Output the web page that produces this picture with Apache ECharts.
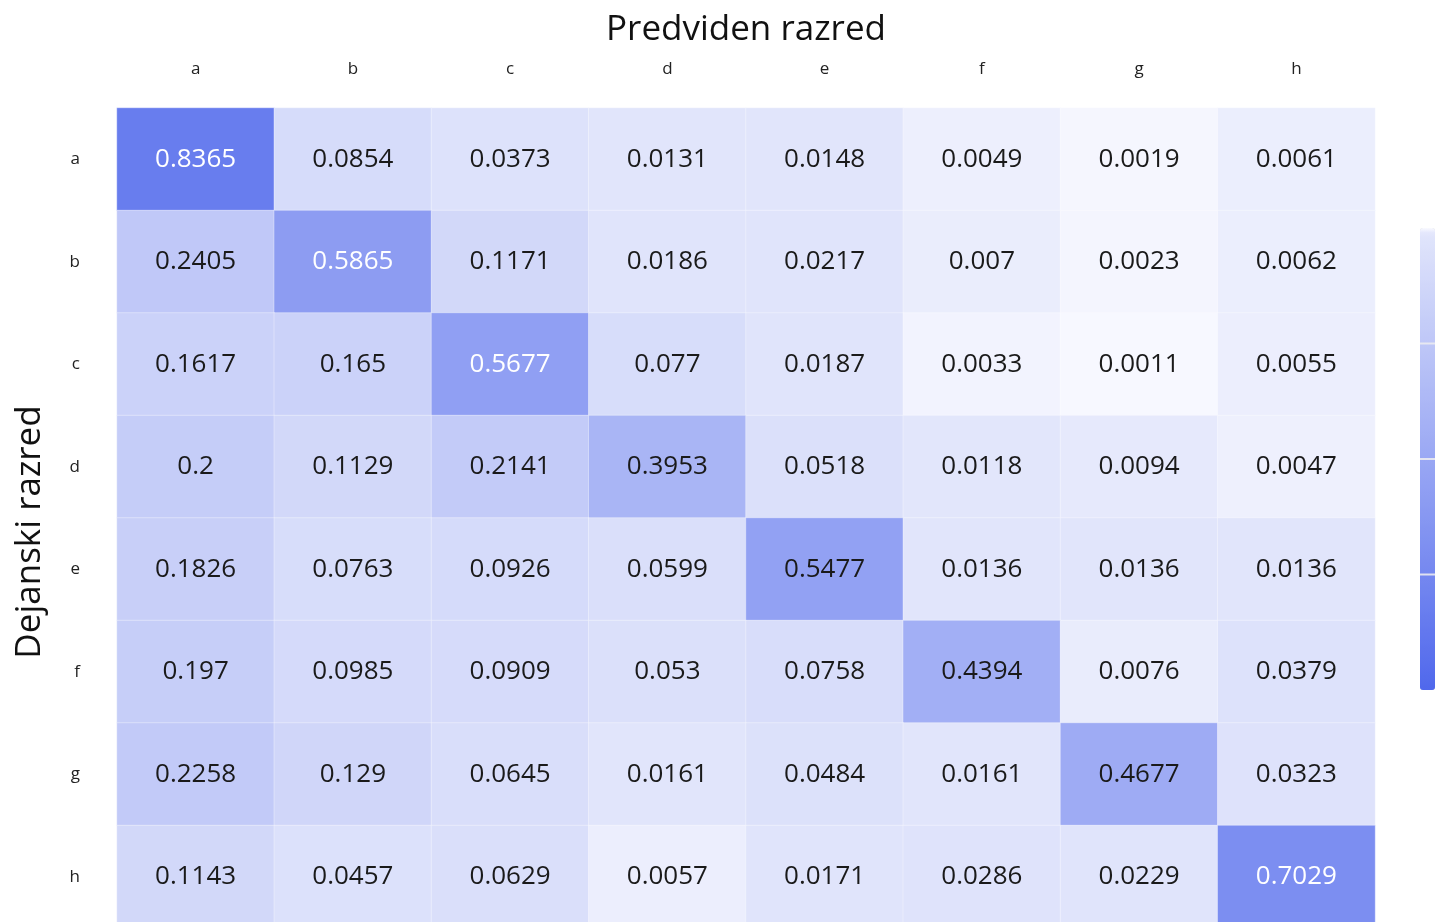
<!DOCTYPE html>
<html>
<head>
<meta charset="utf-8">
<script src="https://cdn.jsdelivr.net/npm/echarts@6/dist/echarts.min.js"></script>
<style>
html,body{margin:0;padding:0;background:#fff;}
#chart{width:1435px;height:922px;}
</style>
</head>
<body>
<div id="chart"></div>
<script>
// Categories
const predictedClasses = ['a','b','c','d','e','f','g','h'];
const actualClasses = ['a','b','c','d','e','f','g','h'];
const xTitle = 'Predviden razred';
const yTitle = 'Dejanski razred';

// Confusion-matrix rows (actual class), columns = predicted class
const row_a = [0.8365,0.0854,0.0373,0.0131,0.0148,0.0049,0.0019,0.0061];
const row_b = [0.2405,0.5865,0.1171,0.0186,0.0217,0.007,0.0023,0.0062];
const row_c = [0.1617,0.165,0.5677,0.077,0.0187,0.0033,0.0011,0.0055];
const row_d = [0.2,0.1129,0.2141,0.3953,0.0518,0.0118,0.0094,0.0047];
const row_e = [0.1826,0.0763,0.0926,0.0599,0.5477,0.0136,0.0136,0.0136];
const row_f = [0.197,0.0985,0.0909,0.053,0.0758,0.4394,0.0076,0.0379];
const row_g = [0.2258,0.129,0.0645,0.0161,0.0484,0.0161,0.4677,0.0323];
const row_h = [0.1143,0.0457,0.0629,0.0057,0.0171,0.0286,0.0229,0.7029];
const rows = [row_a,row_b,row_c,row_d,row_e,row_f,row_g,row_h];

// Colour scale anchors [value, r, g, b]
const colorAnchors = [
  [0, 250,250,255],
  [0.005, 237,239,253],
  [0.0125, 225,229,251],
  [1, 80,104,236]
];
function ramp(v){
  for(let i=1;i<colorAnchors.length;i++){
    const a=colorAnchors[i-1], b=colorAnchors[i];
    if(v<=b[0]){
      const t=(v-a[0])/(b[0]-a[0]);
      const c=[1,2,3].map(k=>Math.round(a[k]+(b[k]-a[k])*t));
      return 'rgb('+c.join(',')+')';
    }
  }
  const l=colorAnchors[colorAnchors.length-1];
  return 'rgb('+l[1]+','+l[2]+','+l[3]+')';
}
const STEPS=400;
const scaleColors=[];
for(let i=0;i<=STEPS;i++) scaleColors.push(ramp(i/STEPS));

const FONT='"Open Sans", "Noto Sans", sans-serif';
const data=[];
rows.forEach((r,yi)=>{
  r.forEach((v,xi)=>{
    data.push({value:[xi,yi,v], label:{color: v>0.555 ? '#ffffff' : '#1a1a1a'}});
  });
});

const chart=echarts.init(document.getElementById('chart'),null,{renderer:'canvas'});
const cbLeft=1420, cbTop=228, cbH=462, cbW=15;
chart.setOption({
  animation:false,
  backgroundColor:'#ffffff',
  textStyle:{fontFamily:FONT},
  grid:{left:117, top:108, width:1258, height:820, containLabel:false, outerBoundsMode:'none'},
  xAxis:{
    type:'category', data:predictedClasses, position:'top',
    name:xTitle, nameLocation:'middle', nameGap:60,
    nameTextStyle:{fontSize:35, color:'#111', fontFamily:FONT},
    axisLine:{show:false}, axisTick:{show:false}, splitLine:{show:false},
    axisLabel:{fontSize:17, color:'#222', margin:30, fontFamily:FONT}
  },
  yAxis:{
    type:'category', data:actualClasses, inverse:true,
    name:yTitle, nameLocation:'middle', nameGap:69, nameRotate:90,
    nameTextStyle:{fontSize:35, color:'#111', fontFamily:FONT, padding:[0,28,0,0]},
    axisLine:{show:false}, axisTick:{show:false}, splitLine:{show:false},
    axisLabel:{fontSize:17, color:'#222', margin:37, fontFamily:FONT}
  },
  visualMap:{
    type:'continuous', min:0, max:1, dimension:2, seriesIndex:0,
    inverse:true, calculable:false, orient:'vertical',
    left:cbLeft, top:cbTop, itemWidth:cbW, itemHeight:cbH,
    text:['',''], padding:0,
    inRange:{color:scaleColors}
  },
  graphic:[0.25,0.5,0.75].map(f=>({
    type:'rect', silent:true, z:100,
    shape:{x:cbLeft, y:cbTop+cbH*f-1, width:40, height:2},
    style:{fill:'rgba(235,235,240,0.9)'}
  })),
  series:[{
    type:'heatmap',
    data:data,
    itemStyle:{borderColor:'rgba(255,255,255,0.35)', borderWidth:1},
    label:{show:true, fontSize:26, fontFamily:FONT, padding:[4,0,0,0]},
    emphasis:{disabled:true}
  }]
});
</script>
</body>
</html>
